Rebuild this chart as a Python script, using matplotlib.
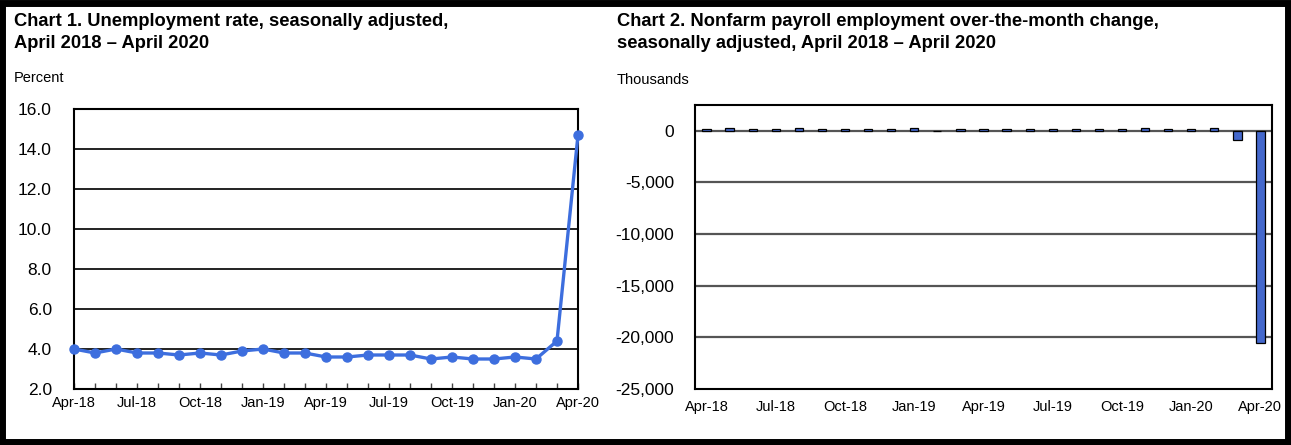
import matplotlib
matplotlib.use("Agg")
import matplotlib.pyplot as plt
import numpy as np
from matplotlib.patches import Rectangle

plt.rcParams["font.family"] = ["Liberation Sans", "DejaVu Sans"]

MONTHS = ["Apr-18", "May-18", "Jun-18", "Jul-18", "Aug-18", "Sep-18", "Oct-18",
          "Nov-18", "Dec-18", "Jan-19", "Feb-19", "Mar-19", "Apr-19", "May-19",
          "Jun-19", "Jul-19", "Aug-19", "Sep-19", "Oct-19", "Nov-19", "Dec-19",
          "Jan-20", "Feb-20", "Mar-20", "Apr-20"]

# unemployment rate, percent
UNEMP = [4.0, 3.8, 4.0, 3.8, 3.8, 3.7, 3.8, 3.7, 3.9, 4.0, 3.8, 3.8, 3.6,
         3.6, 3.7, 3.7, 3.7, 3.5, 3.6, 3.5, 3.5, 3.6, 3.5, 4.4, 14.7]

# payroll over-the-month change, thousands
PAYROLL = [196, 270, 178, 165, 282, 150, 188, 180, 182, 312, 1, 153, 216,
           150, 178, 166, 168, 180, 185, 261, 184, 214, 251, -870, -20500]

Y1_TICKS = [2, 4, 6, 8, 10, 12, 14, 16]
Y2_TICKS = [0, -5000, -10000, -15000, -20000, -25000]

LINE_BLUE = "#3d6ede"
BAR_BLUE = "#4468cc"

W, H = 1291, 445
fig = plt.figure(figsize=(W / 100, H / 100), dpi=100)


def px_axes(left, top, right, bottom):
    return fig.add_axes([left / W, 1 - bottom / H, (right - left) / W, (bottom - top) / H])


x = np.arange(len(MONTHS))
label_idx = x[::3]

# ---- chart 1
ax1 = px_axes(74, 109, 578, 389)
ax1.set_xlim(0, len(MONTHS) - 1)
ax1.set_ylim(2, 16)
ax1.set_yticks(Y1_TICKS)
ax1.set_yticklabels([f"{v:.1f}" for v in Y1_TICKS], fontsize=12.5)
for v in Y1_TICKS[1:-1]:
    ax1.axhline(v, color="#222222", lw=1.4, zorder=1)
ax1.plot(x, UNEMP, color=LINE_BLUE, lw=2.4, marker="o", ms=6.5, zorder=3, clip_on=False)
ax1.set_xticks(label_idx)
ax1.set_xticklabels([MONTHS[i] for i in label_idx], fontsize=10.5)
ax1.set_xticks(x, minor=True)
ax1.tick_params(axis="x", which="both", direction="in", length=4, width=1, color="#444444", pad=5)
ax1.tick_params(axis="y", length=0, pad=16)

# ---- chart 2
ax2 = px_axes(695, 105, 1272, 389)
ax2.set_xlim(-0.5, len(MONTHS) - 0.5)
ax2.set_ylim(-25000, 2500)
ax2.set_yticks(Y2_TICKS)
ax2.set_yticklabels([f"{v:,}" for v in Y2_TICKS], fontsize=12.5)
for v in Y2_TICKS[:-1]:
    ax2.axhline(v, color="#555555", lw=1.6, zorder=1)
ax2.bar(x, PAYROLL, width=0.36, color=BAR_BLUE, edgecolor="black", lw=0.9, zorder=3)
ax2.set_xticks(label_idx)
ax2.set_xticklabels([MONTHS[i] for i in label_idx], fontsize=10.5)
ax2.tick_params(axis="x", length=0, pad=8)
ax2.tick_params(axis="y", length=0, pad=15)

for ax in (ax1, ax2):
    for s in ax.spines.values():
        s.set_linewidth(1.5)
        s.set_color("black")
    ax.set_facecolor("white")

# ---- titles and unit labels
title_kw = dict(fontsize=13.2, fontweight="bold", va="top", ha="left", linespacing=1.42)
fig.text(14 / W, 1 - 13 / H, "Chart 1. Unemployment rate, seasonally adjusted,\nApril 2018 \u2013 April 2020", **title_kw)
fig.text(617 / W, 1 - 13 / H, "Chart 2. Nonfarm payroll employment over-the-month change,\nseasonally adjusted, April 2018 \u2013 April 2020", **title_kw)
fig.text(14 / W, 1 - 78 / H, "Percent", fontsize=10.5, va="center", ha="left")
fig.text(617 / W, 1 - 80 / H, "Thousands", fontsize=10.5, va="center", ha="left")

# outer frame
fig.patches.append(Rectangle((0.0015, 0.007), 0.996, 0.987, transform=fig.transFigure,
                             fill=False, edgecolor="black", lw=5))

fig.savefig("out.png", dpi=100, facecolor="white")
